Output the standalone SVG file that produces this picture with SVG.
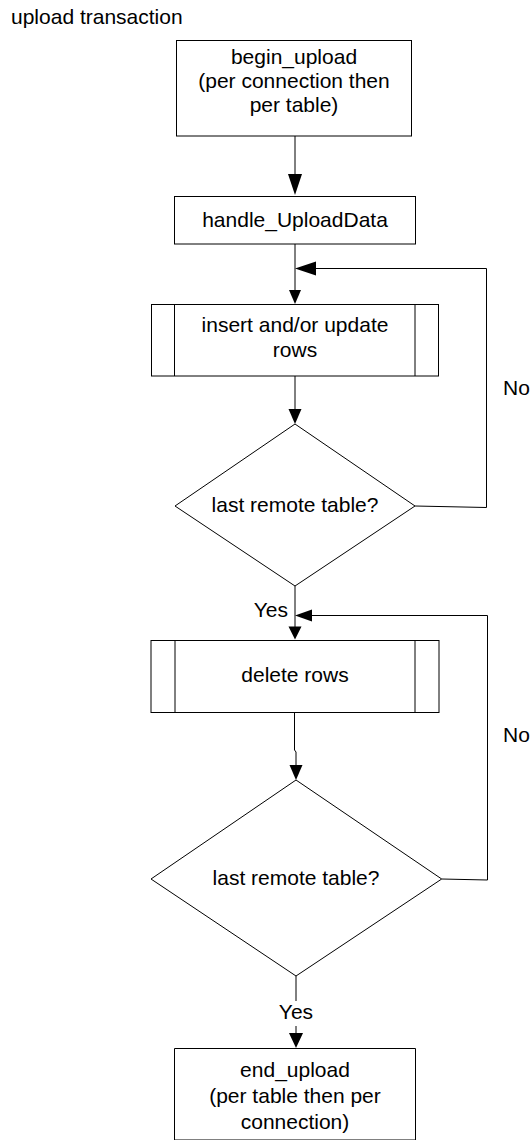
<svg xmlns="http://www.w3.org/2000/svg" width="532" height="1140" viewBox="0 0 532 1140">
<style>
text{font-family:"Liberation Sans",Arial,sans-serif;font-size:21px;fill:#000}
.c{text-anchor:middle}
.box{fill:#fff;stroke:#000;stroke-width:1}
.ln{fill:none;stroke:#000;stroke-width:1}
.ah{fill:#000;stroke:none}
</style>
<rect width="532" height="1140" fill="#fff"/>
<text id="title" x="11" y="24">upload transaction</text>

<g id="connectors">
  <path class="ln" d="M295,136 V180"/>
  <polygon class="ah" points="288,174 302,174 295,195"/>
  <path class="ln" d="M295,244 V292"/>
  <polygon class="ah" points="289,290 301,290 295,304"/>
  <path class="ln" d="M415,506 L486.5,507.5 V268.5 H312"/>
  <polygon class="ah" points="316,261.5 316,275.5 295,268.5"/>
  <path class="ln" d="M295,376 V412"/>
  <polygon class="ah" points="288.5,409 301.5,409 295,424"/>
  <path class="ln" d="M295,586 V628"/>
  <polygon class="ah" points="288.5,626.5 301.5,626.5 295,639.5"/>
  <path class="ln" d="M441.7,879 L487.5,880 V615.5 H308"/>
  <polygon class="ah" points="312,609.5 312,621.5 295,615.5"/>
  <path class="ln" d="M294.5,712.5 V750 L296,752 V768"/>
  <polygon class="ah" points="289.5,765 302.5,765 296,780"/>
  <path class="ln" d="M296,976 V1036"/>
  <polygon class="ah" points="289,1033 303,1033 296,1048"/>
</g>

<g id="begin_upload">
  <rect class="box" x="176.5" y="40.5" width="235" height="95.5"/>
  <text class="c" x="294" y="64">begin_upload</text>
  <text class="c" x="294" y="88">(per connection then</text>
  <text class="c" x="294" y="111.5">per table)</text>
</g>

<g id="handle_UploadData">
  <rect class="box" x="174.5" y="196.5" width="241" height="47.5"/>
  <text class="c" x="295" y="227">handle_UploadData</text>
</g>

<g id="insert_update_rows">
  <rect class="box" x="151.5" y="304.5" width="287" height="71.5"/>
  <path class="ln" d="M174.5,304.5 V376 M415,304.5 V376"/>
  <text class="c" x="295" y="332">insert and/or update</text>
  <text class="c" x="295" y="356.5">rows</text>
</g>

<g id="decision1">
  <polygon class="box" points="295,424 415,506 295,586 175,506"/>
  <text class="c" x="295" y="512">last remote table?</text>
</g>

<g id="no1"><text x="503" y="395">No</text></g>
<g id="yes1"><text x="288" y="617" text-anchor="end">Yes</text></g>

<g id="delete_rows">
  <rect class="box" x="151" y="640.5" width="288" height="72"/>
  <path class="ln" d="M175,640.5 V712.5 M415,640.5 V712.5"/>
  <text class="c" x="295" y="682">delete rows</text>
</g>

<g id="decision2">
  <polygon class="box" points="296,780 441.7,879 296,976 151,879"/>
  <text class="c" x="296" y="885">last remote table?</text>
</g>

<g id="no2"><text x="503" y="742">No</text></g>
<g id="yes2">
  <rect x="279" y="1001" width="34" height="25" fill="#fff"/>
  <text class="c" x="296" y="1019">Yes</text>
</g>

<g id="end_upload">
  <path class="box" d="M174.5,1140 V1048.5 H415.5 V1140 Z"/>
  <text class="c" x="295" y="1077">end_upload</text>
  <text class="c" x="295" y="1103">(per table then per</text>
  <text class="c" x="295" y="1129">connection)</text>
</g>
</svg>
